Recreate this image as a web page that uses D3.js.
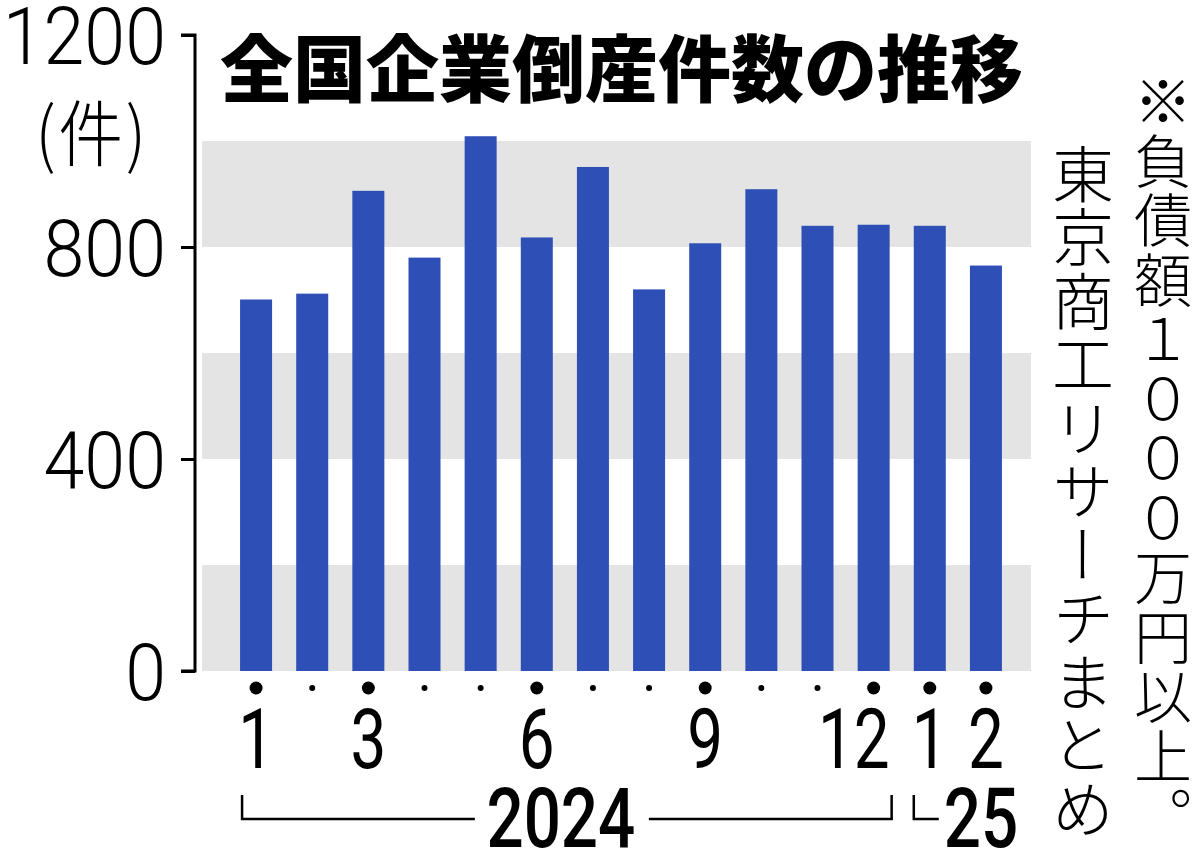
<!DOCTYPE html>
<html><head><meta charset="utf-8">
<script src="https://cdn.jsdelivr.net/npm/d3@7/dist/d3.min.js"></script>
<style>body{margin:0;background:#fff}svg{display:block}</style>
</head><body>
<script>
const months = ["1","2","3","4","5","6","7","8","9","10","11","12","1","2"];
const years = ["2024","2024","2024","2024","2024","2024","2024","2024","2024","2024","2024","2024","2025","2025"];
const counts = [701, 712, 906, 780, 1009, 818, 951, 720, 807, 909, 840, 842, 840, 765];
const labeledMonths = ["1","3","6","9","12"];
const yTicks = [0, 400, 800, 1200];
const bands = [[0,200],[400,600],[800,1000]];
const title = "全国企業倒産件数の推移";
const unitLabel = "(件)";
const note = "※負債額１０００万円以上。";
const source = "東京商工リサーチまとめ";
const yearLabels = ["2024", "25"];

const W = 1200, H = 857;
const svg = d3.select("body").append("svg").attr("width", W).attr("height", H);

const y = d3.scaleLinear().domain([0, 1200]).range([671, 35]);
const idx = d3.range(counts.length);
const x = d3.scaleBand().domain(idx).range([212, 1030]).paddingInner(0.43).paddingOuter(0.5);

const plotL = 202, plotR = 1031, axisX = 195;

// grey bands
svg.selectAll("rect.band").data(bands).join("rect")
  .attr("x", plotL).attr("width", plotR - plotL)
  .attr("y", d => y(d[1])).attr("height", d => y(d[0]) - y(d[1]))
  .attr("fill", "#e4e4e4");

// bars
svg.selectAll("rect.bar").data(counts).join("rect")
  .attr("x", (d,i) => x(i)).attr("width", x.bandwidth())
  .attr("y", d => y(d)).attr("height", d => y(0) - y(d))
  .attr("fill", "#2e4fb6");

// y axis
const yAxis = d3.axisLeft(y).tickValues(yTicks).tickSize(14).tickFormat("");
const ga = svg.append("g").attr("transform", `translate(${axisX},0)`).call(yAxis);
ga.select(".domain").attr("stroke", "#000").attr("stroke-width", 3).attr("d", `M-14,${y(1200)}H0V${y(0)}H-14`);
ga.selectAll(".tick line").attr("stroke", "#000").attr("stroke-width", 3);

svg.selectAll("text.ylab").data(yTicks).join("text")
  .attr("transform", d => `translate(166,${y(d)}) scale(0.92,1)`)
  .attr("text-anchor", "end").attr("dy", "0.36em")
  .attr("font-family", "Roboto").attr("font-weight", 300).attr("font-size", 80)
  .attr("fill", "#000").text(d => d);

svg.append("text")
  .attr("transform", `translate(92,160) scale(0.9,1)`)
  .attr("text-anchor", "middle")
  .attr("font-family", "'Noto Sans CJK JP'").attr("font-weight", 300).attr("font-size", 72)
  .attr("letter-spacing", 3)
  .text(unitLabel);

// title
svg.append("text").attr("x", 220).attr("y", 96)
  .attr("font-family", "'Noto Sans CJK JP'").attr("font-weight", 900).attr("font-size", 73)
  .attr("fill", "#000").text(title);

// month dots
const isLabeled = i => labeledMonths.includes(months[i]) || years[i] === "2025";
svg.selectAll("circle.dot").data(idx).join("circle")
  .attr("cx", i => x(i) + x.bandwidth()/2).attr("cy", 688)
  .attr("r", i => isLabeled(i) ? 6.5 : 3)
  .attr("fill", "#000");

// month labels (two-digit label is right-aligned to its bar)
svg.selectAll("text.mlab").data(idx.filter(isLabeled)).join("text")
  .attr("transform", i => months[i].length > 1
      ? `translate(${x(i) + x.bandwidth()},768) scale(0.76,1)`
      : `translate(${x(i) + x.bandwidth()/2},768) scale(0.76,1)`)
  .attr("text-anchor", i => months[i].length > 1 ? "end" : "middle")
  .attr("font-family", "Roboto").attr("font-weight", 400).attr("font-size", 84)
  .attr("fill", "#000").text(i => months[i]);

// year brackets
const c0 = x(0) + x.bandwidth()/2, c11 = x(11) + x.bandwidth()/2, c12 = x(12) + x.bandwidth()/2;
const by = 819, bt = 795;
const mid24 = (c0 + c11) / 2 - 4;
svg.append("path").attr("fill", "none").attr("stroke", "#000").attr("stroke-width", 2.5)
  .attr("d", `M${x(0)+2},${bt}V${by}H${mid24-86} M${mid24+88},${by}H${x(11)+x.bandwidth()+2}V${bt}`);
svg.append("text")
  .attr("transform", `translate(${mid24},847) scale(0.78,1)`)
  .attr("text-anchor", "middle")
  .attr("font-family", "Roboto").attr("font-weight", 500).attr("font-size", 84)
  .text(yearLabels[0]);
svg.append("path").attr("fill", "none").attr("stroke", "#000").attr("stroke-width", 2.5)
  .attr("d", `M${c12-16},${bt}V${by}H${c12+9}`);
svg.append("text")
  .attr("transform", `translate(${c12+14},847) scale(0.78,1)`)
  .attr("text-anchor", "start")
  .attr("font-family", "Roboto").attr("font-weight", 500).attr("font-size", 84)
  .text(yearLabels[1]);

// vertical notes, one glyph per cell
function vcol(str, cx, top, step, size) {
  const chars = Array.from(str);
  svg.append("g").selectAll("text").data(chars).join("text")
    .attr("x", cx).attr("y", (d,i) => top + i*step)
    .attr("text-anchor", "start")
    .style("writing-mode", "vertical-rl")
    .attr("font-family", "'Noto Sans CJK JP'").attr("font-weight", 300).attr("font-size", size)
    .text(d => d);
}
vcol(note, 1163, 72, 59.5, 58);
vcol(source, 1083, 143, 63.5, 62);
</script>
</body></html>
